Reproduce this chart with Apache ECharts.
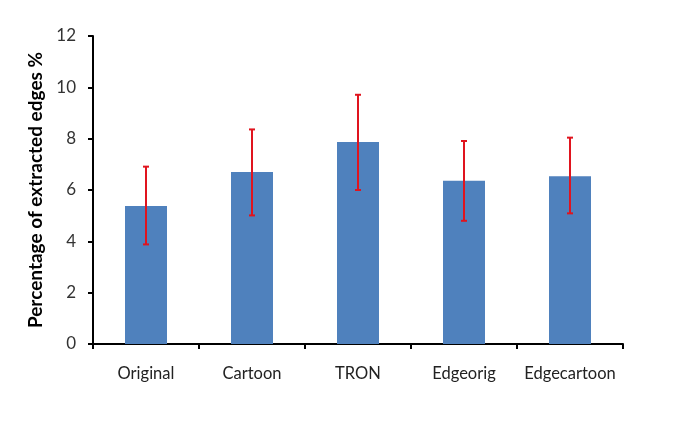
<!DOCTYPE html>
<html>
<head>
<meta charset="utf-8">
<script src="https://cdn.jsdelivr.net/npm/echarts@6/dist/echarts.min.js"></script>
<style>
  html, body { margin: 0; padding: 0; background: #fff; }
  #chart { width: 685px; height: 428px; }
</style>
</head>
<body>
<div id="chart"></div>
<script>
const categories = ['Original', 'Cartoon', 'TRON', 'Edgeorig', 'Edgecartoon'];
const means = [5.38, 6.70, 7.87, 6.36, 6.54];
const errLow = [3.88, 5.01, 6.00, 4.80, 5.09];
const errHigh = [6.91, 8.36, 9.71, 7.91, 8.04];
const yTicks = [0, 2, 4, 6, 8, 10, 12];

const chart = echarts.init(document.getElementById('chart'));

// error bars data: [category index, low, high]
const errData = categories.map((c, i) => [i, errLow[i], errHigh[i]]);

const option = {
  animation: false,
  textStyle: { fontFamily: 'Lato' },
  grid: { left: 93, top: 36, right: 62, bottom: 84 },
  xAxis: {
    type: 'category',
    data: categories,
    axisLine: { lineStyle: { color: '#000', width: 2 } },
    axisTick: { show: true, length: 5, lineStyle: { color: '#000', width: 2 } },
    axisLabel: { color: '#222', fontSize: 16.5, margin: 21, interval: 0, fontFamily: 'Lato' }
  },
  yAxis: {
    type: 'value',
    min: yTicks[0],
    max: yTicks[yTicks.length - 1],
    interval: 2,
    name: 'Percentage of extracted edges %',
    nameLocation: 'middle',
    nameGap: 46,
    nameTextStyle: { color: '#000', fontSize: 19, fontWeight: 'bold', fontFamily: 'Lato' },
    axisLine: { show: true, lineStyle: { color: '#000', width: 2 } },
    axisTick: { show: true, length: 5, lineStyle: { color: '#000', width: 2 } },
    axisLabel: { color: '#333', fontSize: 17, margin: 17, fontFamily: 'Lato' },
    splitLine: { show: false }
  },
  series: [
    {
      type: 'bar',
      data: means,
      barWidth: 42,
      itemStyle: { color: '#4f81bd' }
    },
    {
      type: 'custom',
      data: errData,
      z: 10,
      renderItem: function (params, api) {
        const x = api.value(0);
        const lo = api.coord([x, api.value(1)]);
        const hi = api.coord([x, api.value(2)]);
        const cap = 3;
        const style = { stroke: '#e0141e', lineWidth: 2 };
        return {
          type: 'group',
          children: [
            { type: 'line', shape: { x1: hi[0], y1: hi[1], x2: lo[0], y2: lo[1] }, style: style },
            { type: 'line', shape: { x1: hi[0] - cap, y1: hi[1], x2: hi[0] + cap, y2: hi[1] }, style: style },
            { type: 'line', shape: { x1: lo[0] - cap, y1: lo[1], x2: lo[0] + cap, y2: lo[1] }, style: style }
          ]
        };
      }
    }
  ]
};

chart.setOption(option);
</script>
</body>
</html>
